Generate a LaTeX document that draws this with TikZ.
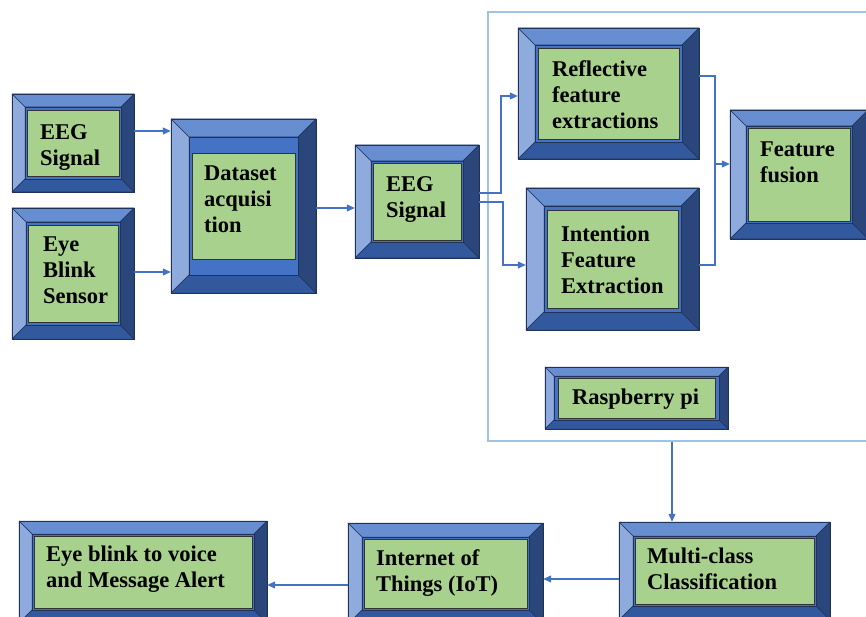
\documentclass[tikz,border=0pt]{standalone}
\usepackage{fontspec}
\setmainfont{Liberation Serif}
\usetikzlibrary{arrows.meta}
\definecolor{cTop}{RGB}{104,142,210}
\definecolor{cLeft}{RGB}{143,170,220}
\definecolor{cRight}{RGB}{43,70,122}
\definecolor{cBot}{RGB}{50,88,158}
\definecolor{cIn}{RGB}{68,114,196}
\definecolor{cGreen}{RGB}{169,209,142}
\definecolor{cEdge}{RGB}{30,50,90}
\definecolor{cArrow}{RGB}{68,114,196}
\definecolor{cCont}{RGB}{157,195,230}
\tikzset{
  piece/.style={draw=cEdge, line width=0.5pt, line join=round},
  greenbox/.style={fill=cGreen, draw=black!80, line width=0.6pt},
  txt/.style={anchor=north west, inner sep=0pt, align=left, font=\fontsize{22.5}{26}\selectfont\bfseries},
  arr/.style={draw=cArrow, line width=1.1pt, -{Triangle[length=8pt,width=7pt]}},
  ln/.style={draw=cArrow, line width=1.1pt},
}
% #1 name, #2 x1, #3 y1, #4 x2, #5 y2, #6 bevel, #7 green margin x, #8 green margin y
\newcommand\bevbox[8]{%
  \fill[piece, fill=cTop] (#2,#3) -- (#4,#3) -- ({#4-#6},{#3+#6}) -- ({#2+#6},{#3+#6}) -- cycle;
  \fill[piece, fill=cLeft] (#2,#3) -- ({#2+#6},{#3+#6}) -- ({#2+#6},{#5-#6}) -- (#2,#5) -- cycle;
  \fill[piece, fill=cRight] (#4,#3) -- (#4,#5) -- ({#4-#6},{#5-#6}) -- ({#4-#6},{#3+#6}) -- cycle;
  \fill[piece, fill=cBot] (#2,#5) -- ({#2+#6},{#5-#6}) -- ({#4-#6},{#5-#6}) -- (#4,#5) -- cycle;
  \fill[piece, fill=cIn] ({#2+#6},{#3+#6}) rectangle ({#4-#6},{#5-#6});
  \filldraw[greenbox] ({#2+#6+#7},{#3+#6+#8}) rectangle ({#4-#6-#7},{#5-#6-#8});
  \draw[cEdge, line width=0.7pt] (#2,#3) rectangle (#4,#5);
  \node[inner sep=0pt, minimum width={(#4-#2)*1pt}, minimum height={(#5-#3)*1pt}] (#1) at ({(#2+#4)/2},{(#3+#5)/2}) {};
}
\begin{document}
\begin{tikzpicture}[x=1pt,y=-1pt]
\useasboundingbox (0,0) rectangle (866,617);
% container
\node[draw=cCont, line width=1.1pt, minimum width=392pt, minimum height=429pt, inner sep=0pt] (cont) at (684,226.5) {};
% boxes
\bevbox{eeg1}{12}{94}{134}{192}{13}{2}{3}
\bevbox{eye}{12}{208}{134}{339}{14}{2}{3}
\bevbox{dataset}{171}{119}{316}{293}{18}{3}{16}
\bevbox{eeg2}{355}{145}{479}{258}{16}{2}{2}
\bevbox{refl}{518}{28}{699}{159}{17}{3}{3}
\bevbox{intent}{526}{188}{699}{330}{18}{3}{4}
\bevbox{fusion}{730}{110}{868}{239}{16}{2}{2}
\bevbox{rasp}{545}{367}{728}{429}{9}{4}{2}
\bevbox{multi}{619}{522}{830}{620}{14}{2}{2}
\bevbox{iot}{348}{523}{543}{624}{14}{2}{2}
\bevbox{alert}{19}{521}{267}{623}{13}{2}{2}
% texts
\node[txt] (t-eeg1) at (40,124) {EEG\\Signal};
\node[txt] (t-eye) at (43,237) {Eye\\Blink\\Sensor};
\node[txt] (t-dataset) at (204,166) {Dataset\\acquisi\\tion};
\node[txt] (t-eeg2) at (386,176) {EEG\\Signal};
\node[txt] (t-refl) at (552,60) {Reflective\\feature\\extractions};
\node[txt] (t-intent) at (561,226) {Intention\\Feature\\Extraction};
\node[txt] (t-fusion) at (760,142) {Feature\\fusion};
\node[txt] (t-rasp) at (572,389) {Raspberry pi};
\node[txt] (t-multi) at (647,548) {Multi-class\\Classification};
\node[txt] (t-iot) at (376,549) {Internet of\\Things (IoT)};
\node[txt] (t-alert) at (46,546) {Eye blink to voice\\and Message Alert};
% connectors
\draw[arr] (eeg1.east |- 0,131) -- (dataset.west |- 0,131);
\draw[arr] (eye.east |- 0,272) -- (dataset.west |- 0,272);
\draw[arr] (dataset.east |- 0,208) -- (eeg2.west |- 0,208);
\draw[arr] (eeg2.east |- 0,193) -- (501,193) -- (501,96) -- (refl.west |- 0,96);
\draw[arr] (eeg2.east |- 0,202) -- (503,202) -- (503,265) -- (intent.west |- 0,265);
\draw[ln] (refl.east |- 0,76) -- (715,76) -- (715,265) -- (intent.east |- 0,265);
\draw[arr] (715,164) -- (fusion.west |- 0,164);
\draw[arr] (cont.south -| 672,0) -- (multi.north -| 672,0);
\draw[arr] (multi.west |- 0,579) -- (iot.east |- 0,579);
\draw[arr] (iot.west |- 0,585) -- (alert.east |- 0,585);
\end{tikzpicture}
\end{document}
